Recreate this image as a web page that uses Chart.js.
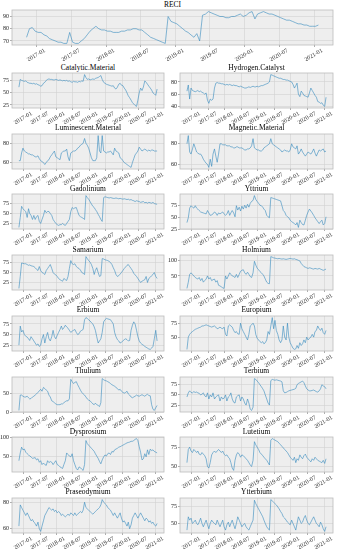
<!DOCTYPE html>
<html><head><meta charset="utf-8">
<script src="https://cdn.jsdelivr.net/npm/chart.js@4.4.1/dist/chart.umd.min.js"></script>
<style>
html,body{margin:0;padding:0;background:#fff;}
body{width:337px;height:550px;position:relative;overflow:hidden;}
canvas{position:absolute;}
.ttl{position:absolute;width:200px;text-align:center;font-family:'Liberation Serif',serif;font-size:7.5px;line-height:7.5px;color:#000;white-space:nowrap;}
</style></head><body>
<script>
const dates = ['2016-11-08','2016-11-23','2016-12-08','2016-12-23',
'2017-01-08','2017-01-23','2017-02-08','2017-02-23','2017-03-08','2017-03-23','2017-04-08','2017-04-23','2017-05-08','2017-05-23','2017-06-08','2017-06-23',
'2017-07-08','2017-07-23','2017-08-08','2017-08-23','2017-09-08','2017-09-23','2017-10-08','2017-10-23','2017-11-08','2017-11-23','2017-12-08','2017-12-23',
'2018-01-08','2018-01-23','2018-02-08','2018-02-23','2018-03-08','2018-03-23','2018-04-08','2018-04-23','2018-05-08','2018-05-23','2018-06-08','2018-06-23',
'2018-07-08','2018-07-23','2018-08-08','2018-08-23','2018-09-08','2018-09-23','2018-10-08','2018-10-23','2018-11-08','2018-11-23','2018-12-08','2018-12-23',
'2019-01-08','2019-01-23','2019-02-08','2019-02-23','2019-03-08','2019-03-23','2019-04-08','2019-04-23','2019-05-08','2019-05-23','2019-06-08','2019-06-23',
'2019-07-08','2019-07-23','2019-08-08','2019-08-23','2019-09-08','2019-09-23','2019-10-08','2019-10-23','2019-11-08','2019-11-23','2019-12-08','2019-12-23',
'2020-01-08','2020-01-23','2020-02-08','2020-02-23','2020-03-08','2020-03-23','2020-04-08','2020-04-23','2020-05-08','2020-05-23','2020-06-08','2020-06-23',
'2020-07-08','2020-07-23','2020-08-08','2020-08-23','2020-09-08','2020-09-23','2020-10-08','2020-10-23','2020-11-08','2020-11-23','2020-12-08','2020-12-23',
'2021-01-08','2021-01-23'];
const tickDates = ['2017-01-01','2017-07-01','2018-01-01','2018-07-01','2019-01-01','2019-07-01','2020-01-01','2020-07-01','2021-01-01'];
const tickLabels = ['2017-01','2017-07','2018-01','2018-07','2019-01','2019-07','2020-01','2020-07','2021-01'];

const RECI = [73,80,81,78,77,77, 75,74,72,71,70,69, 69,68,68,77,69,68, 68,70,72,75,78,80, 82,80,79,79,78,78, 77,77,77,78,78,79, 79,80,80,79,79,77, 75,73,72,71,70,69, 68,90,86,85,84,82, 80,78,77,75,73,76, 70,91,92,94,93,92, 91,90,90,89,89,90, 90,91,92,90,91,93, 94,88,92,93,94,93, 92,92,91,90,89,88, 87,87,86,85,84,84, 83,83,82,82,82,83];
const catalytic = [62,78,76,75,74,75, 72,71,70,70,69,70, 68,69,67,66,64,65, 70,72,76,78,79,78, 78,77,77,78,77,76, 77,76,75,76,75,76, 74,75,73,72,74,73, 73,72,74,73,75,74, 88,82,78,79,77,78, 79,78,80,81,82,84, 86,78,72,70,68,67, 66,65,64,65,60,58, 62,68,70,66,65,60, 56,50,44,40,35,30, 27,24,22,35,50,60, 55,62,75,72,68,64, 60,56,50,48,45,58];
const hydrogen = [65,75,52,70,66,65, 64,65,66,64,65,63, 62,60,62,50,45,52, 50,52,70,78,79,78, 78,77,77,76,75,76, 75,76,75,74,75,74, 74,73,72,73,72,71, 70,70,71,72,71,72, 73,72,72,73,72,73, 74,74,75,76,77,78, 80,92,91,90,89,88, 87,86,86,85,84,84, 83,83,82,81,80,76, 70,74,78,60,56,65, 62,58,57,56,55,62, 70,66,62,58,55,48, 47,45,46,42,40,55];
const luminescent = [62,62,70,75,72,71, 70,69,69,68,68,67, 66,66,67,64,62,61, 60,58,60,62,63,66, 68,70,72,66,65,64, 63,70,71,72,72,74, 66,62,70,71,72,72, 73,75,76,78,79,80, 85,80,78,75,70,65, 62,62,62,65,88,72, 70,88,72,71,70,71, 71,72,70,68,75,72, 71,70,65,64,62,60, 59,58,57,56,55,60, 64,68,70,72,76,74, 72,73,74,73,72,73, 72,73,73,72,72,72];
const magnetic = [80,88,72,70,75,80, 76,72,71,70,70,68, 65,63,61,60,57,65, 58,70,75,68,62,70, 80,80,79,79,79,78, 78,78,77,77,76,76, 77,77,76,76,76,75, 74,74,75,75,76,78, 85,76,75,74,74,73, 73,74,76,77,78,79, 80,85,80,79,78,77, 76,75,74,72,73,74, 73,73,72,74,80,77, 76,75,78,70,72,75, 72,70,68,70,72,71, 70,72,75,71,68,71, 74,73,74,75,72,73];
const gadolinium = [15,40,68,62,58,55, 40,62,50,45,35,45, 35,42,45,30,25,35, 45,58,52,55,55,50, 45,35,30,25,22,20, 22,22,25,22,20,25, 30,35,55,65,62,64, 65,55,45,42,40,38, 35,95,90,86,80,74, 68,65,60,55,48,42, 35,30,90,92,91,90, 89,90,89,88,88,89, 88,87,88,87,86,87, 86,85,86,84,85,83, 82,80,82,81,80,78, 79,80,77,78,76,78, 77,76,78,75,74,73];
const yttrium = [40,50,70,75,72,70, 75,70,68,65,62,61, 60,59,58,65,60,55, 56,58,62,60,55,60, 58,60,62,58,55,58, 65,55,60,65,60,52, 75,66,72,64,74,68, 76,70,78,72,80,84, 86,96,88,84,80,76, 75,72,68,65,55,52, 50,92,91,90,89,88, 87,86,85,75,65,62, 55,52,50,45,42,40, 38,35,40,30,45,40, 36,35,45,55,62,68, 64,60,55,50,46,42, 38,42,45,35,38,52];
const samarium = [10,40,74,73,72,72, 70,68,69,67,66,65, 62,58,55,65,55,50, 48,45,55,60,65,70, 60,50,46,44,40,35, 32,30,28,35,32,30, 40,60,80,72,70,72, 65,62,60,56,50,48, 45,90,85,80,76,70, 60,45,55,62,50,40, 42,85,84,82,81,80, 78,75,70,62,55,45, 40,42,46,50,55,60, 64,68,70,65,60,55, 48,44,40,35,30,25, 28,30,32,40,25,35, 38,42,45,50,40,35];
const holmium = [10,30,55,60,55,50, 45,42,40,45,35,42, 30,35,40,50,40,45, 35,38,40,30,35,20, 18,15,12,10,50,40, 50,60,55,50,48,45, 55,45,55,65,68,70, 60,55,62,55,48,45, 60,97,85,75,70,64, 60,55,50,40,30,26, 25,112,110,108,107,106, 105,106,105,104,105,104, 103,104,105,106,105,104, 105,103,102,100,98,90, 85,80,78,76,74,76, 75,73,72,74,73,72, 74,72,70,68,70,72];
const erbium = [25,70,56,60,50,46, 44,40,36,45,40,35, 30,25,28,22,25,40, 50,30,45,55,40,35, 45,60,45,40,48,55, 62,70,62,66,72,68, 65,60,55,58,60,62, 55,50,52,58,60,62, 85,90,88,85,82,78, 75,68,60,45,30,35, 40,55,80,85,88,87, 86,85,80,75,55,45, 38,35,30,32,35,38, 40,38,35,36,60,72, 80,75,60,45,35,30, 27,25,22,20,18,16, 15,18,22,40,60,35];
const europium = [28,50,55,58,60,62, 64,65,66,67,68,70, 70,71,72,71,70,69, 68,69,70,68,65,66, 68,66,65,68,55,52, 70,72,70,68,62,58, 60,56,55,75,65,60, 55,50,45,55,70,72, 75,70,55,48,45,42, 40,42,38,40,45,60, 55,70,85,65,80,62, 55,45,40,45,70,50, 45,75,50,40,35,30, 28,29,35,30,40,35, 38,45,40,50,45,48, 50,55,50,60,62,70, 65,62,66,58,55,62];
const thulium = [5,45,45,42,40,40, 42,38,35,36,40,42, 45,48,52,56,60,55, 65,62,58,55,45,40, 30,28,25,22,20,20, 20,22,22,25,28,30, 30,35,86,80,75,78, 80,72,65,58,52,48, 45,40,35,32,30,26, 22,20,24,20,18,15, 25,88,85,83,82,80, 78,75,72,70,68,65, 62,58,60,55,52,50, 52,55,48,45,40,38, 40,42,45,43,42,44, 46,44,42,45,47,44, 43,20,8,5,12,18];
const terbium = [45,55,60,56,55,58, 56,57,55,54,50,52, 55,48,45,55,40,50, 45,55,40,45,48,50, 35,45,40,42,50,35, 45,48,55,40,32,30, 45,48,50,35,45,40, 30,25,40,30,15,12, 20,90,88,84,80,75, 70,65,60,50,40,30, 25,85,88,87,86,87, 86,85,84,82,60,55, 56,58,60,61,62,63, 64,66,75,78,80,82, 84,80,72,65,62,60, 60,61,62,60,58,57, 60,65,75,72,70,65];
const dysprosium = [40,60,75,68,70,62, 58,55,52,50,46,47, 48,42,45,36,40,30, 34,30,28,40,35,38, 36,30,35,40,30,28, 24,22,20,30,40,60, 56,52,50,58,40,30, 20,16,24,22,18,15, 30,92,84,80,76,72, 68,64,58,52,46,38, 32,42,50,55,52,58, 60,56,64,62,68,70, 72,75,76,78,80,82, 84,86,87,88,90,90, 92,95,97,92,76,62, 42,45,58,50,68,56, 70,66,68,64,62,60];
const lutetium = [55,72,75,70,68,72, 70,68,70,66,65,68, 66,64,60,50,48,55, 65,68,70,68,70,72, 70,68,70,66,64,65, 62,60,55,48,45,58, 65,68,66,62,65,64, 62,60,58,55,52,50, 58,82,78,75,72,68, 66,64,62,60,58,55, 52,84,86,85,84,83, 82,80,78,76,74,72, 70,68,65,62,60,58, 62,55,60,58,65,62, 60,64,66,62,60,58, 56,60,58,62,60,58, 57,56,55,58,54,60];
const praseodymium = [62,78,76,74,72,70, 72,70,68,66,67,65, 64,62,65,60,58,62, 66,70,72,74,76,75, 74,75,73,74,72,73, 72,70,71,70,69,70, 71,70,72,71,70,72, 70,71,72,73,72,74, 80,76,75,74,73,72, 71,72,73,74,75,76, 78,82,80,79,78,76, 75,74,72,70,72,70, 68,70,72,68,65,66, 64,62,65,60,63,68, 70,72,70,68,70,72, 70,68,66,68,67,65, 66,64,65,63,62,64];
const ytterbium = [40,60,55,58,50,52, 55,50,48,52,58,50, 45,50,55,48,42,50, 55,52,50,48,55,50, 45,50,55,45,40,48, 52,45,50,55,48,42, 50,60,55,50,45,48, 50,45,42,40,45,50, 55,85,80,76,72,68, 64,60,55,50,45,42, 40,86,84,82,80,78, 75,72,68,65,60,58, 55,52,50,48,55,50, 45,40,50,60,55,50, 52,58,62,55,50,48, 52,56,60,55,50,48, 45,52,48,42,38,45];

const panels = [
  {name:'RECI', values:RECI, yTicks:[70,80,90]},
  {name:'Catalytic.Material', values:catalytic, yTicks:[25,50,75]},
  {name:'Hydrogen.Catalyst', values:hydrogen, yTicks:[40,60,80]},
  {name:'Luminescent.Material', values:luminescent, yTicks:[60,80]},
  {name:'Magnetic.Material', values:magnetic, yTicks:[60,80]},
  {name:'Gadolinium', values:gadolinium, yTicks:[25,50,75]},
  {name:'Yttrium', values:yttrium, yTicks:[25,50,75]},
  {name:'Samarium', values:samarium, yTicks:[25,50,75]},
  {name:'Holmium', values:holmium, yTicks:[50,100]},
  {name:'Erbium', values:erbium, yTicks:[25,50,75]},
  {name:'Europium', values:europium, yTicks:[50,75]},
  {name:'Thulium', values:thulium, yTicks:[0,50]},
  {name:'Terbium', values:terbium, yTicks:[25,50,75]},
  {name:'Dysprosium', values:dysprosium, yTicks:[50,100]},
  {name:'Lutetium', values:lutetium, yTicks:[50,75]},
  {name:'Praseodymium', values:praseodymium, yTicks:[60,80]},
  {name:'Ytterbium', values:ytterbium, yTicks:[50,75]}
];

function decYear(s){
  const [y,m,d] = s.split('-').map(Number);
  const a = Date.UTC(y,0,1), b = Date.UTC(y+1,0,1);
  return y + (Date.UTC(y,m-1,d)-a)/(b-a);
}
const xs = dates.map(decYear);
const tickXs = tickDates.map(decYear);
const xSpan = xs[xs.length-1]-xs[0];
const xMin = xs[0]-0.05*xSpan, xMax = xs[xs.length-1]+0.05*xSpan;

const frame = {
  id:'frame',
  beforeDraw(c){const a=c.chartArea,ctx=c.ctx;ctx.save();ctx.fillStyle='#eeeeee';ctx.fillRect(a.left,a.top,a.right-a.left,a.bottom-a.top);ctx.restore();},
  afterDraw(c){const a=c.chartArea,ctx=c.ctx;ctx.save();ctx.strokeStyle='#bcbcbc';ctx.lineWidth=0.8;ctx.strokeRect(a.left,a.top,a.right-a.left,a.bottom-a.top);ctx.restore();}
};

const YW = 12, XH = 16, PT = 4;
const FONT = {family:"'Liberation Serif', serif", size:6};

function geomFor(i){
  if(i===0) return {x:12, y:10, w:321, h:35};
  const k = i-1, row = Math.floor(k/2), col = k%2;
  return {x: col===0 ? 12 : 180, y: 73 + 60.7*row, w: col===0 ? 152 : 153, h:35};
}

panels.forEach((p,i)=>{
  const g = geomFor(i);
  const padR = 10;
  const W = YW + g.w + padR, H = PT + g.h + XH;
  const t = document.createElement('div');
  t.className='ttl'; t.textContent=p.name;
  t.style.left=(g.x+g.w/2-100)+'px'; t.style.top=(g.y-9.5)+'px';
  document.body.appendChild(t);
  const cv = document.createElement('canvas');
  cv.width=W; cv.height=H;
  cv.style.width=W+'px'; cv.style.height=H+'px';
  cv.style.left=(g.x-YW)+'px'; cv.style.top=(g.y-PT)+'px';
  document.body.appendChild(cv);
  const v = p.values;
  const vmin = Math.min(...v), vmax = Math.max(...v), r = vmax-vmin;
  new Chart(cv,{
    type:'line',
    data:{datasets:[{data:xs.map((x,j)=>({x:x,y:v[j]})),borderColor:'#348ABD',borderWidth:0.6,pointRadius:0,tension:0,fill:false}]},
    options:{
      responsive:false, animation:false, devicePixelRatio:1,
      layout:{padding:{left:0,right:padR,top:PT,bottom:0}},
      plugins:{legend:{display:false},tooltip:{enabled:false},title:{display:false}},
      scales:{
        x:{type:'linear',min:xMin,max:xMax,
          afterBuildTicks(s){s.ticks=tickXs.map(val=>({value:val}));},
          afterFit(s){s.height=XH;s.paddingLeft=0;s.paddingRight=0;},
          ticks:{autoSkip:false,minRotation:30,maxRotation:30,font:FONT,color:'#222',padding:0,labelOffset:8,
            callback:(val,idx)=>tickLabels[idx]},
          grid:{color:'#d2d2d2',lineWidth:0.6,tickLength:2,tickColor:'#777'},
          border:{display:false}},
        y:{min:vmin-0.05*r,max:vmax+0.05*r,
          afterBuildTicks(s){s.ticks=p.yTicks.map(val=>({value:val}));},
          afterFit(s){s.width=YW;s.paddingTop=0;s.paddingBottom=0;},
          ticks:{font:FONT,color:'#222',padding:1,callback:(val)=>String(val)},
          grid:{color:'#d2d2d2',lineWidth:0.6,tickLength:2,tickColor:'#777'},
          border:{display:false}}
      }
    },
    plugins:[frame]
  });
});
</script>
</body></html>
